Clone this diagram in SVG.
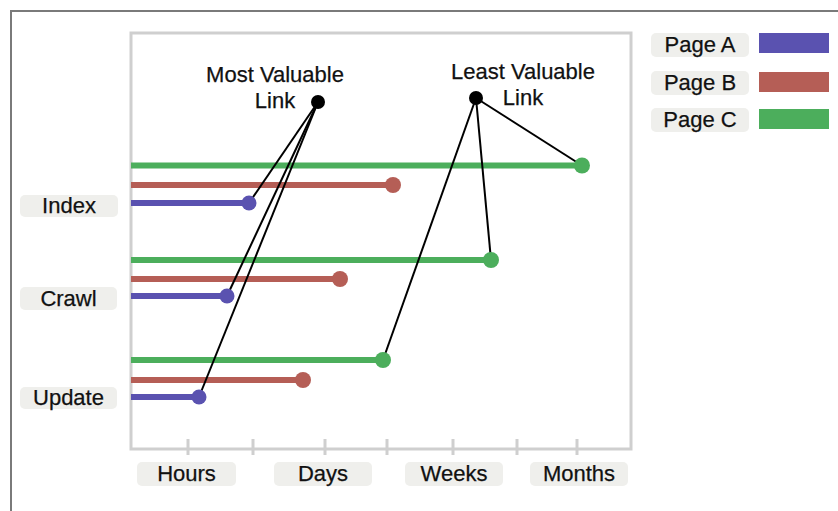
<svg xmlns="http://www.w3.org/2000/svg" width="838" height="511" viewBox="0 0 838 511">
  <style>
    .frame { fill: none; stroke: #7a7a7a; stroke-width: 2; }
    .plot { fill: #ffffff; stroke: #cfcfcf; stroke-width: 3; }
    .tick { stroke: #cfcfcf; stroke-width: 3; }
    .pill { fill: #efefec; }
    .lbl { font-family: "Liberation Sans", Arial, sans-serif; font-size: 22px; fill: #111; stroke: #111; stroke-width: 0.25; text-anchor: middle; }
    .bar { stroke-width: 6; stroke-linecap: butt; fill: none; }
    .a { stroke: #5a52b0; } .b { stroke: #b55e56; } .c { stroke: #4cae5c; }
    .fa { fill: #5a52b0; } .fb { fill: #b55e56; } .fc { fill: #4cae5c; }
    .link { stroke: #000; stroke-width: 2; fill: none; }
  </style>

  <!-- outer frame -->
  <path class="frame" d="M11,511 V11 H838"/>

  <!-- plot area -->
  <rect class="plot" x="131" y="33" width="500" height="416"/>
  <g id="ticks">
    <line class="tick" x1="188" y1="439" x2="188" y2="455"/>
    <line class="tick" x1="253" y1="439" x2="253" y2="455"/>
    <line class="tick" x1="325" y1="439" x2="325" y2="455"/>
    <line class="tick" x1="387" y1="439" x2="387" y2="455"/>
    <line class="tick" x1="453" y1="439" x2="453" y2="455"/>
    <line class="tick" x1="517" y1="439" x2="517" y2="455"/>
    <line class="tick" x1="577" y1="439" x2="577" y2="455"/>
  </g>

  <!-- x axis labels -->
  <g id="x-hours"><rect class="pill" x="137" y="462" width="99" height="24" rx="5"/><text class="lbl" x="186.5" y="481">Hours</text></g>
  <g id="x-days"><rect class="pill" x="274" y="462" width="98" height="24" rx="5"/><text class="lbl" x="323" y="481">Days</text></g>
  <g id="x-weeks"><rect class="pill" x="405" y="462" width="98" height="24" rx="5"/><text class="lbl" x="454" y="481">Weeks</text></g>
  <g id="x-months"><rect class="pill" x="530" y="462" width="98" height="24" rx="5"/><text class="lbl" x="579" y="481">Months</text></g>

  <!-- row labels -->
  <g id="row-index"><rect class="pill" x="20" y="195" width="98" height="22" rx="5"/><text class="lbl" x="69" y="213">Index</text></g>
  <g id="row-crawl"><rect class="pill" x="20" y="287" width="97" height="23" rx="5"/><text class="lbl" x="68.5" y="306">Crawl</text></g>
  <g id="row-update"><rect class="pill" x="20" y="387" width="97" height="22" rx="5"/><text class="lbl" x="68.5" y="405">Update</text></g>

  <!-- bars -->
  <g id="bars">
    <line class="bar c" x1="131" y1="165.5" x2="582" y2="165.5"/>
    <line class="bar b" x1="131" y1="185" x2="393" y2="185"/>
    <line class="bar a" x1="131" y1="203" x2="249" y2="203"/>
    <line class="bar c" x1="131" y1="260" x2="491" y2="260"/>
    <line class="bar b" x1="131" y1="279" x2="340" y2="279"/>
    <line class="bar a" x1="131" y1="296" x2="227" y2="296"/>
    <line class="bar c" x1="131" y1="360" x2="383" y2="360"/>
    <line class="bar b" x1="131" y1="380" x2="303" y2="380"/>
    <line class="bar a" x1="131" y1="397" x2="199" y2="397"/>
  </g>

  <!-- connectors -->
  <g id="connectors">
    <line class="link" x1="318" y1="102" x2="249" y2="203"/>
    <line class="link" x1="318" y1="102" x2="227" y2="296"/>
    <line class="link" x1="318" y1="102" x2="199" y2="397"/>
    <line class="link" x1="476" y1="98" x2="582" y2="165.5"/>
    <line class="link" x1="476" y1="98" x2="491" y2="260"/>
    <line class="link" x1="476" y1="98" x2="383" y2="360"/>
  </g>

  <!-- bar end points -->
  <g id="points">
    <circle class="fc" cx="582" cy="165.5" r="8"/>
    <circle class="fb" cx="393" cy="185" r="8"/>
    <circle class="fa" cx="249" cy="203" r="7.5"/>
    <circle class="fc" cx="491" cy="260" r="8"/>
    <circle class="fb" cx="340" cy="279" r="8"/>
    <circle class="fa" cx="227" cy="296" r="7.5"/>
    <circle class="fc" cx="383" cy="360" r="8"/>
    <circle class="fb" cx="303" cy="380" r="8"/>
    <circle class="fa" cx="199" cy="397" r="7.5"/>
  </g>

  <!-- annotations -->
  <g id="most-valuable">
    <circle cx="318" cy="102" r="7" fill="#000"/>
    <text class="lbl" x="275" y="82">Most Valuable</text>
    <text class="lbl" x="275" y="108">Link</text>
  </g>
  <g id="least-valuable">
    <circle cx="476" cy="98" r="7" fill="#000"/>
    <text class="lbl" x="523" y="79">Least Valuable</text>
    <text class="lbl" x="523" y="105">Link</text>
  </g>

  <!-- legend -->
  <g id="legend-a"><rect class="pill" x="651" y="33" width="98" height="24" rx="5"/><text class="lbl" x="700" y="52">Page A</text><rect class="fa" x="759" y="33" width="70" height="20"/></g>
  <g id="legend-b"><rect class="pill" x="651" y="71" width="98" height="24" rx="5"/><text class="lbl" x="700" y="90">Page B</text><rect class="fb" x="759" y="72" width="70" height="20"/></g>
  <g id="legend-c"><rect class="pill" x="651" y="108" width="98" height="24" rx="5"/><text class="lbl" x="700" y="127">Page C</text><rect class="fc" x="759" y="109" width="70" height="20"/></g>
</svg>
